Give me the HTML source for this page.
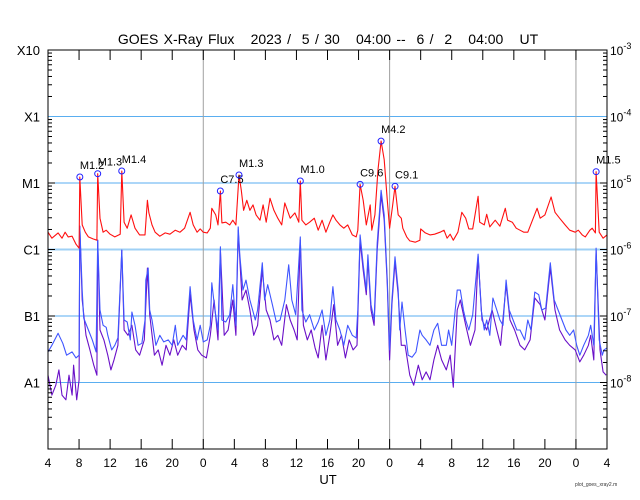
<!DOCTYPE html>
<html><head><meta charset="utf-8"><style>
html,body{margin:0;padding:0;background:#fff;}
svg{display:block;font-family:"Liberation Sans",sans-serif;}
</style></head><body>
<svg id="chart" width="640" height="500" viewBox="0 0 640 500">
<text x="328" y="44" text-anchor="middle" font-size="14" word-spacing="1.5" fill="#000" xml:space="preserve">GOES X-Ray Flux   2023 /  5 / 30   04:00 --  6 /  2   04:00   UT</text>
<g id="grid"></g>
<g id="series"></g>
<g id="axes"></g>
<text x="328" y="484" text-anchor="middle" font-size="13">UT</text>
<text x="575" y="486" font-size="5" fill="#333">plot_goes_xray2.m</text>
</svg>
<script>
// time in hours since 04:00 UT on 2023/5/30, values are log10(flux W/m^2)
const redT=[0,0.5,1.3,1.8,2.2,2.6,3.1,3.6,4.0,4.1,4.4,4.8,5.2,5.8,6.3,6.4,6.7,7.1,7.5,8.0,8.6,9.3,9.5,9.8,10.2,10.7,11.2,11.8,12.5,12.8,13.0,13.4,13.8,14.4,15.1,15.7,16.4,17.0,17.6,18.3,18.7,19.2,19.6,20.0,20.5,20.9,21.1,21.6,21.9,22.2,22.4,22.9,23.4,23.8,24.2,24.6,24.9,25.2,25.6,26.0,26.4,26.8,27.3,27.7,28.1,28.6,29.1,29.6,30.1,30.5,31.2,31.8,32.3,32.5,32.7,33.2,33.7,34.3,34.8,35.3,35.8,36.3,36.7,37.1,37.6,38.1,38.6,39.2,39.7,39.9,40.2,40.6,41.0,41.5,41.7,42.1,42.5,42.9,43.3,43.7,44.0,44.4,44.7,45.1,45.5,45.7,46.2,46.6,47.3,47.9,48.0,48.6,49.2,49.8,50.5,51.0,51.4,51.8,52.2,52.8,53.3,53.8,54.2,54.7,55.4,55.6,56.2,56.5,56.9,57.6,58.2,58.9,59.2,59.8,60.3,60.8,61.3,61.8,62.3,63.0,63.4,64.0,64.8,65.3,65.9,66.6,67.2,67.9,68.3,68.8,69.2,69.8,70.1,70.5,70.6,71.0,71.5,72.0];
const redV=[-5.74,-5.83,-5.75,-5.83,-5.74,-5.81,-5.80,-5.92,-5.98,-4.91,-5.63,-5.74,-5.81,-5.84,-5.86,-4.86,-5.53,-5.74,-5.71,-5.77,-5.81,-5.77,-4.82,-5.59,-5.68,-5.48,-5.68,-5.78,-5.78,-5.26,-5.45,-5.63,-5.74,-5.80,-5.75,-5.77,-5.71,-5.74,-5.68,-5.44,-5.63,-5.74,-5.69,-5.74,-5.75,-5.68,-5.38,-5.48,-5.63,-5.12,-5.60,-5.59,-5.63,-5.56,-5.63,-4.88,-5.11,-5.41,-5.26,-5.41,-5.33,-5.48,-5.56,-5.33,-5.59,-5.23,-5.41,-5.53,-5.63,-5.30,-5.53,-5.45,-5.59,-4.97,-5.56,-5.63,-5.59,-5.53,-5.71,-5.56,-5.74,-5.59,-5.48,-5.56,-5.63,-5.68,-5.63,-5.78,-5.81,-5.71,-5.02,-5.26,-5.63,-5.33,-5.71,-5.48,-4.80,-4.37,-4.65,-5.26,-5.68,-5.33,-5.05,-5.48,-5.53,-5.68,-5.81,-5.87,-5.89,-5.86,-5.69,-5.75,-5.78,-5.77,-5.74,-5.71,-5.83,-5.77,-5.86,-5.74,-5.44,-5.53,-5.69,-5.69,-5.20,-5.59,-5.63,-5.47,-5.66,-5.56,-5.65,-5.38,-5.56,-5.59,-5.68,-5.71,-5.74,-5.74,-5.59,-5.38,-5.53,-5.48,-5.21,-5.44,-5.53,-5.63,-5.71,-5.74,-5.71,-5.78,-5.81,-5.71,-5.68,-5.75,-4.83,-5.74,-5.83,-5.78];
const blueT=[0,0.5,1.3,1.9,2.4,3.1,3.6,4.0,4.1,4.4,4.6,5.2,5.7,6.2,6.4,6.7,7.1,7.5,7.7,8.2,8.6,9.0,9.5,9.8,10.2,10.6,10.8,11.2,11.6,12.1,12.5,12.6,12.9,13.1,13.4,13.9,14.4,14.9,15.5,16.0,16.4,16.7,17.4,17.8,18.3,18.7,19.2,19.6,20.0,20.5,20.9,21.1,21.5,21.9,22.2,22.4,22.9,23.4,23.8,24.2,24.5,24.7,25.1,25.5,26.0,26.7,27.0,27.6,27.9,28.3,28.9,29.4,29.9,30.5,31.0,31.4,31.9,32.5,32.7,33.2,33.7,34.3,34.8,35.3,35.8,36.3,36.7,37.1,37.6,38.1,38.6,39.2,39.7,39.9,40.2,40.6,41.0,41.2,41.6,42.0,42.4,42.9,43.3,43.7,44.0,44.3,44.7,45.1,45.3,45.6,46.0,46.4,46.9,47.4,47.9,48.2,48.7,49.2,49.7,50.2,50.7,51.3,51.6,52.0,52.7,53.1,53.5,53.8,54.2,54.7,55.4,55.8,56.2,56.5,56.9,57.3,57.8,58.2,58.6,59.0,59.4,59.9,60.4,60.8,61.4,61.8,62.2,62.7,63.2,63.6,64.1,64.7,65.2,65.7,66.2,66.7,67.2,67.7,68.1,68.5,69.0,69.6,69.9,70.3,70.6,71.0,71.4,71.6,72.0];
const blueV=[-7.54,-7.44,-7.26,-7.41,-7.59,-7.54,-7.63,-7.59,-5.65,-6.61,-7.03,-7.21,-7.36,-7.54,-5.86,-6.91,-7.14,-7.17,-7.29,-7.51,-7.44,-7.33,-6.01,-7.06,-7.09,-7.36,-6.94,-7.14,-7.44,-7.41,-7.06,-6.46,-6.28,-6.91,-7.06,-7.44,-7.29,-7.39,-7.36,-7.44,-7.14,-7.44,-7.29,-7.36,-6.56,-7.06,-7.36,-7.14,-7.39,-7.36,-7.14,-6.50,-6.91,-7.21,-5.96,-7.06,-7.09,-6.98,-6.53,-7.14,-5.66,-6.08,-6.61,-6.46,-6.76,-7.06,-6.91,-6.20,-6.76,-6.53,-6.83,-7.09,-7.06,-6.76,-6.23,-6.76,-6.98,-5.81,-6.91,-7.09,-6.98,-7.21,-7.09,-6.91,-7.29,-7.06,-6.56,-7.06,-7.21,-7.44,-7.14,-7.29,-7.33,-6.91,-5.78,-6.23,-6.61,-6.08,-6.83,-7.06,-5.90,-5.11,-5.48,-6.46,-7.51,-6.76,-6.11,-6.61,-7.21,-6.79,-7.21,-7.59,-7.62,-7.54,-7.21,-7.29,-7.36,-7.44,-7.21,-7.11,-7.44,-7.44,-7.21,-7.44,-6.61,-6.61,-6.91,-7.06,-7.21,-6.98,-6.07,-6.91,-7.21,-7.06,-7.29,-6.73,-6.91,-7.06,-7.14,-6.46,-6.91,-7.06,-7.21,-7.21,-7.36,-7.06,-7.21,-6.64,-6.68,-6.91,-6.88,-6.20,-6.76,-6.91,-7.06,-7.21,-7.29,-7.21,-7.44,-7.59,-7.44,-7.29,-7.14,-7.44,-5.98,-7.36,-7.59,-7.51,-7.48];
const purpleT=[0,0.5,1.0,1.4,1.8,2.3,2.7,3.1,3.3,3.7,4.0,4.1,4.4,4.9,5.4,5.9,6.3,6.4,6.7,7.2,7.7,8.1,8.5,9.0,9.5,9.8,10.3,10.8,11.3,11.8,12.4,12.8,13.1,13.7,14.2,14.7,15.2,15.7,16.2,16.7,17.3,17.8,18.3,18.8,19.3,19.8,20.4,20.9,21.4,21.9,22.2,22.7,23.2,23.8,24.2,24.5,25.0,25.5,26.0,26.5,27.0,27.6,28.1,28.6,29.1,29.6,30.1,30.7,31.2,31.7,32.1,32.5,32.9,33.4,33.9,34.4,34.8,35.3,35.8,36.3,36.8,37.3,37.8,38.3,38.8,39.3,39.8,40.2,40.6,41.0,41.2,41.6,42.0,42.4,42.9,43.3,43.7,44.0,44.3,44.7,45.1,45.5,46.0,46.6,47.1,47.7,48.2,48.7,49.2,49.7,50.2,50.7,51.3,51.8,52.2,52.7,53.1,53.8,54.4,55.0,55.4,55.9,56.5,57.2,57.8,58.3,59.0,59.5,60.1,60.8,61.4,62.1,62.7,63.4,64.0,64.7,65.3,65.9,66.6,67.2,67.9,68.5,69.0,69.6,69.9,70.3,70.6,71.1,71.5,71.9];
const purpleV=[-7.89,-8.19,-8.04,-7.81,-8.19,-8.26,-7.89,-8.19,-7.74,-8.26,-7.96,-5.65,-6.76,-7.29,-7.51,-7.74,-7.89,-5.86,-7.21,-7.36,-7.59,-7.81,-7.66,-7.44,-6.01,-7.21,-7.29,-7.14,-7.51,-7.59,-7.36,-6.28,-6.98,-7.59,-7.51,-7.74,-7.44,-7.59,-7.36,-7.59,-7.44,-7.51,-6.68,-7.21,-7.51,-7.59,-7.63,-7.29,-6.76,-7.36,-6.01,-7.29,-7.21,-6.76,-7.29,-5.71,-6.76,-6.61,-6.91,-7.29,-7.14,-6.31,-6.91,-7.06,-7.36,-7.29,-7.44,-6.83,-7.06,-7.21,-7.36,-5.86,-7.14,-7.36,-7.21,-7.48,-7.63,-7.14,-7.66,-7.29,-6.83,-7.44,-7.29,-7.63,-7.36,-7.51,-7.44,-5.86,-6.31,-6.68,-6.16,-6.91,-7.14,-6.01,-5.18,-5.56,-6.53,-7.66,-6.83,-6.19,-6.68,-7.44,-7.44,-7.89,-8.04,-7.74,-7.96,-7.84,-7.96,-7.66,-7.44,-7.66,-7.81,-7.59,-8.07,-6.91,-6.76,-7.14,-7.44,-7.21,-6.10,-7.06,-7.21,-6.91,-7.21,-7.44,-6.53,-7.06,-7.21,-7.44,-7.51,-7.36,-6.73,-6.83,-7.06,-6.28,-6.91,-7.21,-7.36,-7.44,-7.51,-7.69,-7.59,-7.44,-7.29,-7.66,-6.01,-7.51,-7.84,-7.89];
const flareT=[4.1,6.4,9.5,22.2,24.6,32.5,40.2,42.9,44.7,70.6];
const flareV=[-4.91,-4.86,-4.82,-5.12,-4.88,-4.97,-5.02,-4.37,-5.05,-4.83];
const flareLabels=["M1.2","M1.3","M1.4","C7.5","M1.3","M1.0","C9.6","M4.2","C9.1","M1.5"];
const xTickHours=[0,4,8,12,16,20,24,28,32,36,40,44,48,52,56,60,64,68,72];
const xTickLabels=["4","8","12","16","20","0","4","8","12","16","20","0","4","8","12","16","20","0","4"];
const dayBoundaries=[20,44,68];
const yLeftLabels=["X10","X1","M1","C1","B1","A1"];
const yDecades=[-3,-4,-5,-6,-7,-8];
const yRightExp=["-3","-4","-5","-6","-7","-8"];

const L=48,R=607,T=50,B=449;
const xs=h=>L+(h/72)*(R-L);
const ys=v=>T+(-3-v)/6*(B-T);
const NS="http://www.w3.org/2000/svg";
function mk(tag,attrs,parent){const e=document.createElementNS(NS,tag);for(const k in attrs)e.setAttribute(k,attrs[k]);parent.appendChild(e);return e;}
const grid=document.getElementById('grid'),ser=document.getElementById('series'),ax=document.getElementById('axes');

yDecades.forEach((d,i)=>{if(i===0)return;
 const ln=mk('line',{x1:L,x2:R,y1:ys(d),y2:ys(d),stroke:d===-6?'#9fd0f5':'#5aaef0','stroke-width':d===-6?2:1},grid);
 
 
});
dayBoundaries.forEach(h=>{
 const ln=mk('line',{x1:xs(h),x2:xs(h),y1:T,y2:B,stroke:'#a0a0a0','stroke-width':1},grid);
 
 
});

function series(tArr,vArr,color,name){
 let d='';tArr.forEach((t,i)=>{d+=(i?'L':'M')+xs(t).toFixed(1)+' '+ys(vArr[i]).toFixed(1);});
 const p=mk('path',{d:d,fill:'none',stroke:color,'stroke-width':1.1,'stroke-linejoin':'round'},ser);
 
 
}
series(purpleT,purpleV,'#6a10c8','xray-short-secondary-line');
series(blueT,blueV,'#3f55ff','xray-short-line');
series(redT,redV,'#ff1010','xray-long-line');

flareT.forEach((t,i)=>{
 const c=mk('circle',{cx:xs(t),cy:ys(flareV[i]),r:3,fill:'none',stroke:'#2020ff','stroke-width':1},ser);
 
 
 const tx=mk('text',{x:xs(t),y:ys(flareV[i])-8,'font-size':11,fill:'#000'},ser);
 tx.textContent=flareLabels[i];
 
 
});

const box=mk('rect',{x:L,y:T,width:R-L,height:B-T,fill:'none',stroke:'#000','stroke-width':1},ax);



xTickHours.forEach((h,i)=>{
 const x=xs(h);
 const t1=mk('line',{x1:x,x2:x,y1:B,y2:B-10,stroke:'#000'},ax);
 
 
 const t2=mk('line',{x1:x,x2:x,y1:T,y2:T+10,stroke:'#000'},ax);
 
 
 const lb=mk('text',{x:x,y:467,'text-anchor':'middle','font-size':12},ax);
 lb.textContent=xTickLabels[i];
 
 
});

for(let d=-3;d>-9;d--){
 for(let m=1;m<=9;m++){
  const v=d-1+Math.log10(m);
  if(m===1&&d===-3)continue;
  const y=ys(m===1?d-1:v);
  const len=m===1?7:4;
  if(m===1&&d-1<-8)continue;
  const a=mk('line',{x1:L,x2:L+len,y1:y,y2:y,stroke:'#000'},ax);
  
  
  const b=mk('line',{x1:R,x2:R-len,y1:y,y2:y,stroke:'#000'},ax);
  
  
 }
}
yDecades.forEach((d,i)=>{
 const y=ys(d);
 const lb=mk('text',{x:40,y:y+5,'text-anchor':'end','font-size':13},ax);
 lb.textContent=yLeftLabels[i];
 
 
 const rl=mk('text',{x:610,y:y+5,'font-size':12},ax);
 rl.textContent='10';
 const sp=mk('tspan',{dy:-6,'font-size':9},rl);
 sp.textContent=yRightExp[i];
 
 
});
</script>
</body></html>
